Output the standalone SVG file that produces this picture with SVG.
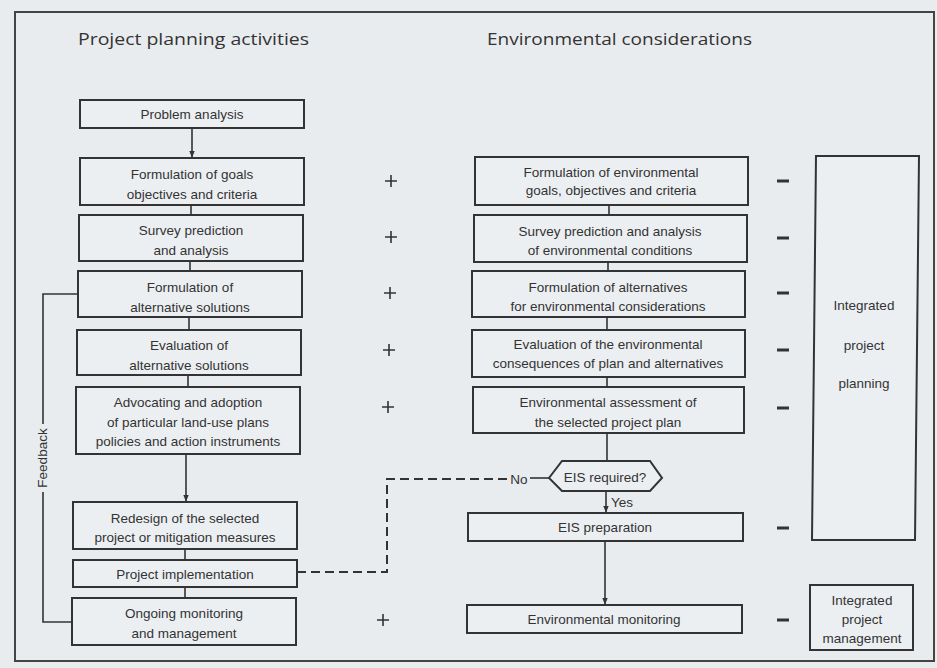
<svg xmlns="http://www.w3.org/2000/svg" width="937" height="668" viewBox="0 0 937 668">
  <defs>
    <marker id="arrow" viewBox="0 0 10 10" refX="9" refY="5" markerWidth="7" markerHeight="7" orient="auto-start-reverse" markerUnits="userSpaceOnUse">
      <path d="M0,1 L10,5 L0,9 z" fill="#333"/>
    </marker>
    <style>
      .bg { fill: #e8ecef; }
      .frame { fill: none; stroke: #444; stroke-width: 2; }
      .box { fill: #eceff2; stroke: #333; stroke-width: 2; }
      .line { fill: none; stroke: #333; stroke-width: 1.6; }
      .dash { fill: none; stroke: #333; stroke-width: 2; stroke-dasharray: 9 5; }
      .t { font-family: "Liberation Sans", Arial, sans-serif; font-size: 13.5px; fill: #333; text-anchor: middle; dominant-baseline: central; }
      .head { font-family: "Open Sans", "Liberation Sans", sans-serif; font-size: 16px; fill: #333; }
      .sign { stroke: #333; stroke-width: 1.6; fill: none; }
      .minus { stroke: #333; stroke-width: 3; fill: none; }
    </style>
  </defs>

  <rect class="bg" x="0" y="0" width="937" height="668"/>
  <rect class="frame" x="15" y="12" width="919" height="649"/>

  <!-- column headings -->
  <text class="head" x="78" y="45" textLength="231" lengthAdjust="spacingAndGlyphs">Project planning activities</text>
  <text class="head" x="487" y="45" textLength="265" lengthAdjust="spacingAndGlyphs">Environmental considerations</text>

  <!-- connectors -->
  <g id="connectors">
    <line class="line" x1="192" y1="128" x2="192" y2="157" marker-end="url(#arrow)"/>
    <line class="line" x1="191" y1="205" x2="191" y2="215"/>
    <line class="line" x1="190" y1="261" x2="190" y2="271"/>
    <line class="line" x1="189" y1="317" x2="189" y2="330"/>
    <line class="line" x1="188" y1="375" x2="188" y2="387"/>
    <line class="line" x1="186" y1="454" x2="186" y2="501" marker-end="url(#arrow)"/>
    <line class="line" x1="185" y1="549" x2="185" y2="560"/>
    <line class="line" x1="185" y1="587" x2="185" y2="598"/>

    <line class="line" x1="609" y1="205" x2="609" y2="215"/>
    <line class="line" x1="608" y1="262" x2="608" y2="271"/>
    <line class="line" x1="607" y1="317" x2="607" y2="330"/>
    <line class="line" x1="607" y1="377" x2="607" y2="387"/>
    <line class="line" x1="607" y1="433" x2="607" y2="461"/>
    <line class="line" x1="606" y1="491" x2="606" y2="512" marker-end="url(#arrow)"/>
    <text class="t" x="622" y="502" font-size="11">Yes</text>
    <line class="line" x1="605" y1="541" x2="605" y2="604" marker-end="url(#arrow)"/>

    <!-- "No" branch -->
    <line class="line" x1="530" y1="478" x2="549" y2="478"/>
    <text class="t" x="519" y="479" font-size="12">No</text>
    <path class="dash" d="M507,479 H387 V572 H297"/>

    <!-- feedback loop -->
    <path class="line" d="M78,294 H43 V424"/>
    <path class="line" d="M43,492 V622 H72"/>
    <text class="t" x="0" y="0" font-size="12" transform="translate(42,458) rotate(-90)">Feedback</text>
  </g>

  <!-- project planning activities -->
  <g id="problem-analysis">
    <rect class="box" x="80" y="100" width="224" height="28"/>
    <text class="t" x="192" y="114">Problem analysis</text>
  </g>
  <g id="goals">
    <rect class="box" x="80" y="158" width="224" height="47"/>
    <text class="t" x="192" y="174">Formulation of goals</text>
    <text class="t" x="192" y="194">objectives and criteria</text>
  </g>
  <g id="survey">
    <rect class="box" x="79" y="215" width="224" height="46"/>
    <text class="t" x="191" y="230">Survey prediction</text>
    <text class="t" x="191" y="250">and analysis</text>
  </g>
  <g id="alternatives">
    <rect class="box" x="78" y="271" width="224" height="46"/>
    <text class="t" x="190" y="287">Formulation of</text>
    <text class="t" x="190" y="307">alternative solutions</text>
  </g>
  <g id="evaluation">
    <rect class="box" x="77" y="330" width="224" height="45"/>
    <text class="t" x="189" y="345">Evaluation of</text>
    <text class="t" x="189" y="365">alternative solutions</text>
  </g>
  <g id="advocating">
    <rect class="box" x="76" y="387" width="224" height="67"/>
    <text class="t" x="188" y="402">Advocating and adoption</text>
    <text class="t" x="188" y="422">of particular land-use plans</text>
    <text class="t" x="188" y="441">policies and action instruments</text>
  </g>
  <g id="redesign">
    <rect class="box" x="73" y="502" width="224" height="47"/>
    <text class="t" x="185" y="518">Redesign of the selected</text>
    <text class="t" x="185" y="537">project or mitigation measures</text>
  </g>
  <g id="implementation">
    <rect class="box" x="73" y="560" width="224" height="27"/>
    <text class="t" x="185" y="574">Project implementation</text>
  </g>
  <g id="ongoing-monitoring">
    <rect class="box" x="72" y="598" width="224" height="47"/>
    <text class="t" x="184" y="613">Ongoing monitoring</text>
    <text class="t" x="184" y="633">and management</text>
  </g>

  <!-- plus signs -->
  <g id="plus-signs">
    <path class="sign" d="M385,181 h12 M391,175 v12"/>
    <path class="sign" d="M385,237 h12 M391,231 v12"/>
    <path class="sign" d="M384,293 h12 M390,287 v12"/>
    <path class="sign" d="M383,350 h12 M389,344 v12"/>
    <path class="sign" d="M382,407 h12 M388,401 v12"/>
    <path class="sign" d="M377,620 h12 M383,614 v12"/>
  </g>

  <!-- environmental considerations -->
  <g id="env-goals">
    <rect class="box" x="475" y="157" width="273" height="48"/>
    <text class="t" x="611" y="172">Formulation of environmental</text>
    <text class="t" x="611" y="190">goals, objectives and criteria</text>
  </g>
  <g id="env-survey">
    <rect class="box" x="474" y="215" width="273" height="47"/>
    <text class="t" x="610" y="231">Survey prediction and analysis</text>
    <text class="t" x="610" y="250">of environmental conditions</text>
  </g>
  <g id="env-alternatives">
    <rect class="box" x="472" y="271" width="273" height="46"/>
    <text class="t" x="608" y="287">Formulation of alternatives</text>
    <text class="t" x="608" y="306">for environmental considerations</text>
  </g>
  <g id="env-evaluation">
    <rect class="box" x="472" y="330" width="273" height="47"/>
    <text class="t" x="608" y="344">Evaluation of the environmental</text>
    <text class="t" x="608" y="363" font-size="13">consequences of plan and alternatives</text>
  </g>
  <g id="env-assessment">
    <rect class="box" x="473" y="387" width="271" height="46"/>
    <text class="t" x="608" y="402">Environmental assessment of</text>
    <text class="t" x="608" y="422">the selected project plan</text>
  </g>
  <g id="eis-required">
    <path class="box" d="M549,478 L562,461 H650 L662,478 L650,491 H562 Z"/>
    <text class="t" x="605" y="477">EIS required?</text>
  </g>
  <g id="eis-preparation">
    <rect class="box" x="468" y="513" width="275" height="28"/>
    <text class="t" x="605" y="527">EIS preparation</text>
  </g>
  <g id="env-monitoring">
    <rect class="box" x="467" y="605" width="275" height="28"/>
    <text class="t" x="604" y="619">Environmental monitoring</text>
  </g>

  <!-- minus signs -->
  <g id="minus-signs">
    <path class="minus" d="M777,181 h12"/>
    <path class="minus" d="M777,238 h12"/>
    <path class="minus" d="M777,293 h12"/>
    <path class="minus" d="M777,350 h12"/>
    <path class="minus" d="M777,408 h12"/>
    <path class="minus" d="M777,528 h12"/>
    <path class="minus" d="M777,620 h12"/>
  </g>

  <g id="integrated-planning">
    <path class="box" d="M816,156 L919,156 L915,540 L812,540 Z"/>
    <text class="t" x="864" y="305">Integrated</text>
    <text class="t" x="864" y="345">project</text>
    <text class="t" x="864" y="383">planning</text>
  </g>
  <g id="integrated-management">
    <rect class="box" x="810" y="585" width="103" height="65"/>
    <text class="t" x="862" y="600" font-size="12.5">Integrated</text>
    <text class="t" x="862" y="619" font-size="12.5">project</text>
    <text class="t" x="862" y="638" font-size="12.5">management</text>
  </g>
</svg>
